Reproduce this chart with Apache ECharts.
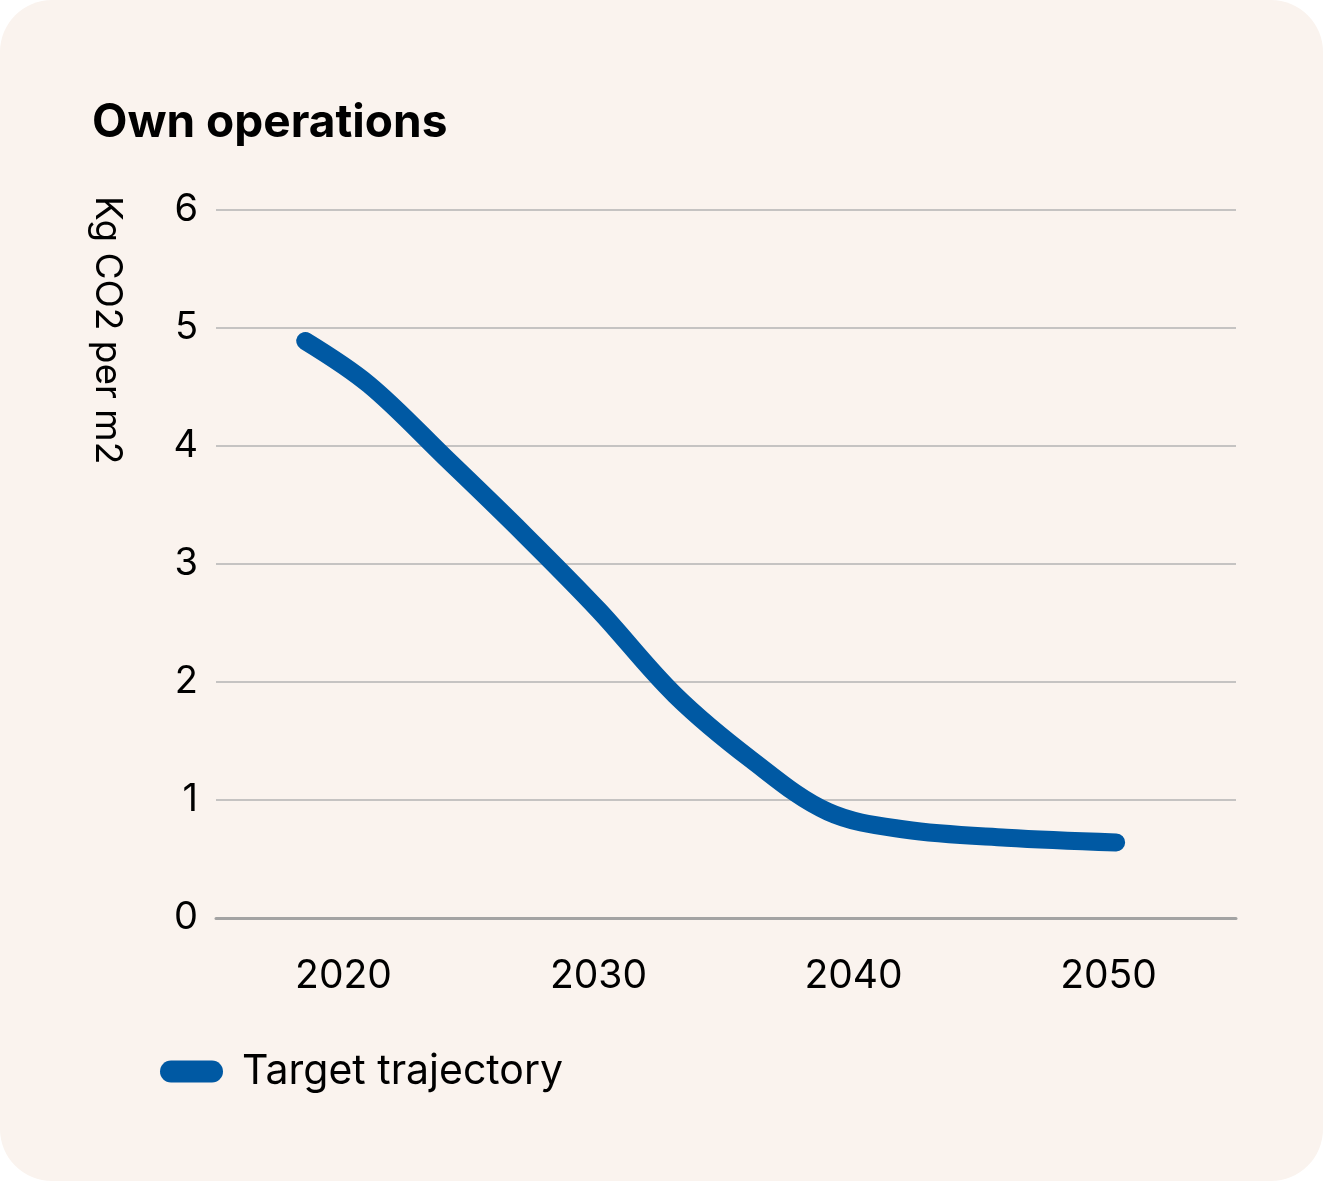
<!DOCTYPE html>
<html>
<head>
<meta charset="utf-8">
<script src="https://cdn.jsdelivr.net/npm/echarts@6/dist/echarts.min.js"></script>
<style>
html,body{margin:0;padding:0;background:#ffffff;}
#bg{position:absolute;left:0;top:0;width:1323px;height:1181px;background:#FAF3EE;border-radius:52px;}
#chart{position:absolute;left:0;top:0;width:1323px;height:1181px;}
</style>
</head>
<body>
<div id="bg"></div>
<div id="chart"></div>
<script>
const title = 'Own operations';
const yAxisName = 'Kg CO2 per m2';
const seriesName = 'Target trajectory';
const years = [2018.5, 2021, 2024, 2027, 2030, 2033, 2036, 2039, 2042, 2046, 2050.3];
const values = [4.89, 4.52, 3.90, 3.27, 2.61, 1.89, 1.34, 0.90, 0.75, 0.68, 0.64];
const xTicks = [2020, 2030, 2040, 2050];
const yTicks = [0, 1, 2, 3, 4, 5, 6];

const FONT = 'Inter, Lato, sans-serif';
const chart = echarts.init(document.getElementById('chart'), null, {renderer: 'canvas'});
chart.setOption({
  backgroundColor: 'transparent',
  animation: false,
  textStyle: {fontFamily: FONT},
  title: {
    text: title,
    left: 87, top: 95,
    textStyle: {fontFamily: FONT, fontWeight: 'bold', fontSize: 46, color: '#000'}
  },
  grid: {left: 216, right: 87, top: 210, bottom: 263, containLabel: false},
  legend: {
    left: 155, top: 1046,
    itemWidth: 63, itemHeight: 22,
    icon: 'path://M11,0 L52,0 A11,11 0 0 1 52,22 L11,22 A11,11 0 0 1 11,0 Z',
    textStyle: {fontFamily: FONT, fontSize: 41, color: '#000', padding: [0, 0, 0, 14]},
    data: [seriesName]
  },
  xAxis: {
    type: 'value', min: 2015, max: 2055, interval: 5,
    axisLine: {show: true, onZero: false, lineStyle: {color: '#a3a3a3', width: 3}},
    axisTick: {show: false},
    splitLine: {show: false},
    axisLabel: {
      margin: 39, fontSize: 39, color: '#000', fontFamily: FONT,
      formatter: v => xTicks.includes(v) ? String(v) : '',
      showMinLabel: true, showMaxLabel: true
    }
  },
  yAxis: {
    type: 'value', min: yTicks[0], max: yTicks[yTicks.length - 1], interval: 1,
    axisLine: {show: false},
    axisTick: {show: false},
    splitLine: {lineStyle: {color: '#b3b3b3', width: 1.5}},
    axisLabel: {margin: 18, fontSize: 38, color: '#000', fontFamily: FONT,
      formatter: v => yTicks.includes(v) ? String(v) : ''}
  },
  graphic: [{
    type: 'text', x: 107, y: 196, rotation: -Math.PI / 2,
    style: {text: yAxisName, font: '37px ' + FONT, fill: '#000', textAlign: 'left', textVerticalAlign: 'middle'}
  }],
  series: [{
    name: seriesName, type: 'line',
    data: years.map((y, i) => [y, values[i]]),
    smooth: 0.35,
    showSymbol: false, symbol: 'none',
    lineStyle: {color: '#0059A3', width: 18, cap: 'round', join: 'round'},
    itemStyle: {color: '#0059A3'}
  }]
});
</script>
</body>
</html>
